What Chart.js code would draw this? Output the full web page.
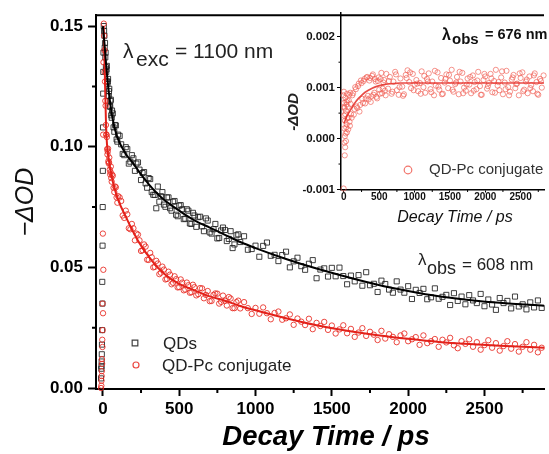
<!DOCTYPE html>
<html>
<head>
<meta charset="utf-8">
<script src="https://cdn.jsdelivr.net/npm/chart.js@4.4.1/dist/chart.umd.min.js"></script>
<style>
  html, body { margin: 0; padding: 0; background: #fff; }
  #wrap { position: relative; width: 549px; height: 454px; }
  #main { position: absolute; left: 0; top: 0; }
  #inset { position: absolute; left: 280px; top: 0; }
</style>
</head>
<body>
<div id="wrap">
  <canvas id="main" width="549" height="454"></canvas>
  <canvas id="inset" width="269" height="228"></canvas>
</div>
<script>
// Main panel: -dOD at 608 nm (ps)
const mainTime = [
  -10, -8, -6, -4, -2, 0, 2, 4, 6, 8,
  10, 12, 14, 16, 18, 20, 24, 28, 32, 36,
  40, 45, 50, 55, 60, 70, 80, 90, 100, 120,
  140, 160, 180, 200, 220, 240, 260, 280, 300, 320,
  340, 360, 380, 400, 420, 440, 460, 480, 500, 520,
  540, 560, 580, 600, 625, 650, 675, 700, 725, 750,
  775, 800, 825, 850, 875, 900, 925, 950, 975, 1000,
  1025, 1050, 1075, 1100, 1125, 1150, 1175, 1200, 1225, 1250,
  1275, 1300, 1325, 1350, 1375, 1400, 1425, 1450, 1475, 1500,
  1525, 1550, 1575, 1600, 1625, 1650, 1675, 1700, 1725, 1750,
  1775, 1800, 1825, 1850, 1875, 1900, 1925, 1950, 1975, 2000,
  2025, 2050, 2075, 2100, 2125, 2150, 2175, 2200, 2225, 2250,
  2275, 2300, 2325, 2350, 2375, 2400, 2425, 2450, 2475, 2500,
  2525, 2550, 2575, 2600, 2625, 2650, 2675, 2700, 2725, 2750,
  2775, 2800, 2825, 2850, 2875,
  // extra (denser) early points
  -12, -9, -7, -5, -3, -1, 1, 3,
  22, 26, 30, 34, 38, 42, 48, 52, 58, 65,
  75, 85, 95, 110, 130, 150, 170, 190, 210, 230,
  250, 270, 290, 310, 330, 350, 370, 390, 410, 430,
  450, 470, 490, 510, 530, 550, 570, 590, 612, 637,
  662, 687, 712, 737, 762, 787, 812, 837, 862, 887
];

const qdValues = [
  0.008, 0.011, 0.018, 0.044, 0.059, 0.090, 0.122, 0.139, 0.150, 0.148,
  0.146, 0.141, 0.143, 0.137, 0.139, 0.133, 0.132, 0.127, 0.127, 0.121,
  0.123, 0.117, 0.119, 0.113, 0.115, 0.108, 0.109, 0.103, 0.105, 0.101,
  0.0965, 0.0990, 0.0938, 0.0952, 0.0930, 0.0905, 0.0891, 0.0848, 0.0870, 0.0812,
  0.0800, 0.0835, 0.0795, 0.0760, 0.0790, 0.0745, 0.0772, 0.0718, 0.0756, 0.0741,
  0.0702, 0.0735, 0.0680, 0.0715, 0.0708, 0.0670, 0.0703, 0.0645, 0.0658, 0.0620,
  0.0653, 0.0655, 0.0618, 0.0580, 0.0633, 0.0605, 0.0629, 0.0573, 0.0576, 0.0590,
  0.0544, 0.0589, 0.0603, 0.0548, 0.0552, 0.0526, 0.0551, 0.0565, 0.0500, 0.0525,
  0.0540, 0.0505, 0.0490, 0.0515, 0.0530, 0.0455, 0.0491, 0.0496, 0.0462, 0.0498,
  0.0463, 0.0499, 0.0464, 0.0430, 0.0466, 0.0442, 0.0468, 0.0424, 0.0480, 0.0426,
  0.0432, 0.0398, 0.0445, 0.0431, 0.0408, 0.0395, 0.0442, 0.0408, 0.0395, 0.0422,
  0.0369, 0.0407, 0.0394, 0.0411, 0.0368, 0.0376, 0.0413, 0.0370, 0.0378, 0.0386,
  0.0344, 0.0393, 0.0361, 0.0379, 0.0347, 0.0385, 0.0363, 0.0352, 0.0390, 0.0339,
  0.0367, 0.0346, 0.0324, 0.0373, 0.0352, 0.0361, 0.0330, 0.0379, 0.0338, 0.0347,
  0.0326, 0.0355, 0.0334, 0.0363, 0.0332,
  0.004, 0.009, 0.014, 0.024, 0.035, 0.075, 0.108, 0.131,
  0.1310, 0.1335, 0.1262, 0.1281, 0.1210, 0.1240, 0.1165, 0.1195, 0.1120, 0.1138,
  0.1062, 0.1088, 0.1021, 0.1045, 0.0970, 0.0998, 0.0930, 0.0965, 0.0900, 0.0935,
  0.0862, 0.0895, 0.0830, 0.0866, 0.0801, 0.0745, 0.0772, 0.0812, 0.0751, 0.0790,
  0.0735, 0.0775, 0.0712, 0.0758, 0.0700, 0.0741, 0.0682, 0.0726, 0.0668, 0.0710,
  0.0650, 0.0694, 0.0640, 0.0680, 0.0622, 0.0665, 0.0609, 0.0650, 0.0595, 0.0637
];

const conjugateValues = [
  0.001, 0.005, 0.012, 0.020, 0.035, 0.064, 0.105, 0.135, 0.151, 0.146,
  0.140, 0.131, 0.127, 0.119, 0.117, 0.109, 0.105, 0.099, 0.098, 0.094,
  0.0935, 0.0905, 0.0895, 0.0870, 0.0885, 0.0830, 0.0835, 0.0790, 0.0795, 0.0775,
  0.0705, 0.0720, 0.0658, 0.0662, 0.0640, 0.0612, 0.0571, 0.0586, 0.0531, 0.0542,
  0.0502, 0.0516, 0.0478, 0.0491, 0.0452, 0.0470, 0.0436, 0.0451, 0.0418, 0.0437,
  0.0408, 0.0426, 0.0397, 0.0418, 0.0389, 0.0413, 0.0386, 0.0360, 0.0386, 0.0391,
  0.0357, 0.0362, 0.0377, 0.0331, 0.0356, 0.0330, 0.0356, 0.0331, 0.0307, 0.0332,
  0.0308, 0.0334, 0.0310, 0.0285, 0.0311, 0.0317, 0.0283, 0.0289, 0.0305, 0.0262,
  0.0288, 0.0275, 0.0261, 0.0287, 0.0244, 0.0270, 0.0257, 0.0274, 0.0241, 0.0259,
  0.0226, 0.0243, 0.0260, 0.0227, 0.0245, 0.0212, 0.0230, 0.0248, 0.0216, 0.0233,
  0.0221, 0.0199, 0.0237, 0.0205, 0.0223, 0.0212, 0.0190, 0.0218, 0.0226, 0.0194,
  0.0202, 0.0211, 0.0179, 0.0218, 0.0186, 0.0194, 0.0203, 0.0171, 0.0200, 0.0189,
  0.0208, 0.0177, 0.0165, 0.0194, 0.0183, 0.0202, 0.0171, 0.0190, 0.0159, 0.0178,
  0.0198, 0.0167, 0.0186, 0.0155, 0.0174, 0.0194, 0.0163, 0.0182, 0.0151, 0.0171,
  0.0190, 0.0159, 0.0179, 0.0148, 0.0167,
  0.000, 0.003, 0.007, 0.010, 0.017, 0.024, 0.031, 0.049,
  0.1050, 0.1040, 0.0968, 0.0992, 0.0931, 0.0955, 0.0885, 0.0918, 0.0855, 0.0880,
  0.0812, 0.0832, 0.0768, 0.0790, 0.0715, 0.0735, 0.0662, 0.0680, 0.0612, 0.0636,
  0.0568, 0.0595, 0.0532, 0.0560, 0.0500, 0.0527, 0.0472, 0.0503, 0.0450, 0.0482,
  0.0430, 0.0463, 0.0417, 0.0450, 0.0405, 0.0437, 0.0395, 0.0428, 0.0384, 0.0414,
  0.0372, 0.0402, 0.0361, 0.0392, 0.0350, 0.0383, 0.0342, 0.0371, 0.0331, 0.0362
];

// fitted curves
const qdFitTime = [0, 10, 20, 30, 40, 60, 80, 100, 150, 200, 250, 300, 350, 400, 450, 500, 600, 700, 800, 900,
  1000, 1200, 1400, 1600, 1800, 2000, 2200, 2400, 2600, 2890];
const qdFitValues = [0.150, 0.143, 0.135, 0.128, 0.122, 0.113, 0.107, 0.103, 0.097, 0.093,
  0.0885, 0.0845, 0.081, 0.078, 0.0757, 0.0735, 0.0695, 0.0665, 0.0635, 0.0605,
  0.058, 0.0535, 0.0495, 0.046, 0.0428, 0.0402, 0.038, 0.0365, 0.0353, 0.0341];

const conjugateFitTime = [5, 10, 15, 20, 25, 30, 40, 60, 80, 100, 150, 200, 250, 300, 350, 400, 450, 500, 600, 700,
  800, 900, 1000, 1200, 1400, 1600, 1800, 2000, 2200, 2400, 2600, 2890];
const conjugateFitValues = [0.150, 0.138, 0.124, 0.111, 0.103, 0.099, 0.094, 0.087, 0.082, 0.078,
  0.071, 0.0645, 0.059, 0.0545, 0.0505, 0.0475, 0.045, 0.0432, 0.0405, 0.038,
  0.0362, 0.034, 0.0322, 0.0289, 0.026, 0.0237, 0.0219, 0.0204, 0.0191, 0.0182,
  0.0175, 0.0167];

// Inset: -dOD at 676 nm
const insetTime = [
  -8, -4, 0, 2, 4, 6, 8, 10, 12, 15,
  18, 21, 24, 27, 30, 35, 40, 45, 50, 55,
  60, 70, 80, 90, 100, 120, 140, 160, 180, 200,
  220, 240, 260, 280, 300, 320, 340, 360, 380, 400,
  420, 440, 460, 480, 500, 520, 540, 560, 580, 600,
  625, 650, 675, 700, 725, 750, 775, 800, 825, 850,
  875, 900, 925, 950, 975, 1000, 1025, 1050, 1075, 1100,
  1125, 1150, 1175, 1200, 1225, 1250, 1275, 1300, 1325, 1350,
  1375, 1400, 1425, 1450, 1475, 1500, 1525, 1550, 1575, 1600,
  1625, 1650, 1675, 1700, 1725, 1750, 1775, 1800, 1825, 1850,
  1875, 1900, 1925, 1950, 1975, 2000, 2025, 2050, 2075, 2100,
  2125, 2150, 2175, 2200, 2225, 2250, 2275, 2300, 2325, 2350,
  2375, 2400, 2425, 2450, 2475, 2500, 2525, 2550, 2575, 2600,
  2625, 2650, 2675, 2700, 2725, 2750, 2775, 2800, 2825,
  // extra points
  5, 14, 20, 33, 38, 43, 48, 65, 75, 85, 95,
  110, 130, 150, 170, 190, 210, 230, 250, 270, 290,
  310, 330, 350, 370, 390, 410, 430, 450, 470, 490,
  510, 530, 550, 570, 590,
  637, 687, 737, 787, 837, 887, 937, 987, 1037, 1087,
  1137, 1187, 1237, 1287, 1337, 1387, 1437, 1487, 1537, 1587,
  1637, 1687, 1737, 1787, 1837, 1887, 1937, 1987, 2037, 2087,
  2137, 2187, 2237, 2287, 2337, 2387, 2437, 2487, 2537, 2587,
  2637, 2687, 2737, 2787
];

const insetValues = [
  0.00085, -0.00098, 0.00092, 0.00070, 0.00045, 0.00020, -0.00008, 0.00060, -0.00033, 0.00035,
  -0.00017, 0.00080, 0.00010, 0.00055, -0.00005, 0.00072, 0.00028, 0.00088, 0.00040, 0.00062,
  0.00018, 0.00075, 0.00033, 0.00090, 0.00048, 0.00085, 0.00047, 0.00101, 0.00063, 0.00103,
  0.00053, 0.00114, 0.00078, 0.00113, 0.00069, 0.00120, 0.00084, 0.00114, 0.00072, 0.00123,
  0.00086, 0.00117, 0.00082, 0.00113, 0.00096, 0.00117, 0.00089, 0.00110, 0.00094, 0.00127,
  0.00098, 0.00121, 0.00088, 0.00112, 0.00131, 0.00095, 0.00086, 0.00118, 0.00102, 0.00087,
  0.00125, 0.00134, 0.00111, 0.00099, 0.00127, 0.00106, 0.00115, 0.00093, 0.00109, 0.00132,
  0.00101, 0.00090, 0.00117, 0.00128, 0.00097, 0.00112, 0.00085, 0.00104, 0.00130, 0.00096,
  0.00119, 0.00088, 0.00110, 0.00126, 0.00099, 0.00114, 0.00135, 0.00092, 0.00107, 0.00121,
  0.00087, 0.00112, 0.00129, 0.00100, 0.00094, 0.00118, 0.00106, 0.00089, 0.00124, 0.00111,
  0.00097, 0.00131, 0.00103, 0.00086, 0.00115, 0.00122, 0.00098, 0.00109, 0.00127, 0.00091,
  0.00113, 0.00135, 0.00104, 0.00095, 0.00120, 0.00087, 0.00110, 0.00133, 0.00101, 0.00092,
  0.00116, 0.00125, 0.00099, 0.00108, 0.00085, 0.00119, 0.00130, 0.00096, 0.00112, 0.00089,
  0.00122, 0.00105, 0.00093, 0.00128, 0.00111, 0.00086, 0.00117, 0.00100, 0.00124,
  0.00062, 0.00005, 0.00048, 0.00022, 0.00067, 0.00012, 0.00075, 0.00041, 0.00086, 0.00025, 0.00068,
  0.00041, 0.00089, 0.00058, 0.00097, 0.00060, 0.00108, 0.00066, 0.00109, 0.00070, 0.00117,
  0.00079, 0.00121, 0.00077, 0.00119, 0.00083, 0.00126, 0.00090, 0.00112, 0.00079, 0.00120,
  0.00088, 0.00129, 0.00098, 0.00115, 0.00085,
  0.00113, 0.00092, 0.00126, 0.00101, 0.00084, 0.00119, 0.00130, 0.00095, 0.00108, 0.00088,
  0.00123, 0.00112, 0.00091, 0.00133, 0.00102, 0.00087, 0.00117, 0.00125, 0.00096, 0.00110,
  0.00131, 0.00089, 0.00106, 0.00121, 0.00094, 0.00114, 0.00086, 0.00127, 0.00103, 0.00118,
  0.00090, 0.00111, 0.00132, 0.00097, 0.00085, 0.00120, 0.00107, 0.00128, 0.00093, 0.00116,
  0.00099, 0.00124, 0.00088, 0.00113
];

const insetFitTime = [0, 25, 50, 100, 150, 200, 250, 300, 400, 500, 600, 700, 800, 1000, 1500, 2000, 2500, 2831];
const insetFitValues = [0.00030, 0.00038, 0.00046, 0.00058, 0.00069, 0.00078, 0.00085, 0.00091, 0.00099, 0.00104,
  0.00107, 0.00108, 0.00109, 0.00109, 0.00109, 0.00109, 0.00109, 0.00109];

// tick positions
const timeTicks = [0, 500, 1000, 1500, 2000, 2500];
const mainYTicks = [0, 0.05, 0.10, 0.15];
const insetYTicks = [-0.001, 0, 0.001, 0.002];
const timeMinor = [250, 750, 1250, 1750, 2250, 2750];
const mainYMinor = [0.025, 0.075, 0.125];
const insetYMinor = [-0.0005, 0.0005, 0.0015];

const FONT = "'Liberation Sans', Arial, sans-serif";
const RED = '#e3211a';

Chart.defaults.font.family = FONT;

function pts(xs, ys) {
  return xs.map((x, i) => ({ x: x, y: ys[i] }));
}

function fixedTicks(values) {
  return scale => { scale.ticks = values.map(v => ({ value: v })); };
}

// small ticks between the labelled ones
function minorTicks(xVals, yVals, len, width) {
  return {
    id: 'minorTicks',
    afterDraw(chart) {
      const { ctx, chartArea, scales } = chart;
      ctx.save();
      ctx.strokeStyle = '#000';
      ctx.lineWidth = width;
      ctx.beginPath();
      xVals.forEach(v => {
        const px = scales.x.getPixelForValue(v);
        ctx.moveTo(px, chartArea.bottom);
        ctx.lineTo(px, chartArea.bottom + len);
      });
      yVals.forEach(v => {
        const py = scales.y.getPixelForValue(v);
        ctx.moveTo(chartArea.left, py);
        ctx.lineTo(chartArea.left - len, py);
      });
      ctx.stroke();
      ctx.restore();
    }
  };
}

// free text (labels, legend text)
function textLayer(items) {
  return {
    id: 'textLayer',
    afterDraw(chart) {
      const ctx = chart.ctx;
      items.forEach(it => {
        ctx.save();
        ctx.font = (it.style || 'normal') + ' ' + (it.weight || 'normal') + ' ' + it.size + 'px ' + FONT;
        ctx.fillStyle = it.color || '#111';
        ctx.textAlign = it.align || 'left';
        ctx.textBaseline = it.baseline || 'alphabetic';
        ctx.translate(it.x, it.y);
        if (it.rotate) ctx.rotate(it.rotate);
        ctx.fillText(it.text, 0, 0);
        ctx.restore();
      });
    }
  };
}

// legend markers drawn with the library's point helper
function legendMarks(marks) {
  return {
    id: 'legendMarks',
    afterDraw(chart) {
      const ctx = chart.ctx;
      marks.forEach(m => {
        ctx.save();
        ctx.strokeStyle = m.color;
        ctx.fillStyle = 'rgba(0,0,0,0)';
        ctx.lineWidth = m.borderWidth;
        Chart.helpers.drawPoint(ctx, { pointStyle: m.style, radius: m.radius, rotation: 0, borderWidth: m.borderWidth }, m.x, m.y);
        ctx.restore();
      });
    }
  };
}

const topBorder = {
  id: 'topBorder',
  afterDraw(chart) {
    const { ctx, chartArea } = chart;
    ctx.save();
    ctx.strokeStyle = '#000';
    ctx.lineWidth = 2;
    ctx.beginPath();
    ctx.moveTo(chartArea.left, chartArea.top);
    ctx.lineTo(chartArea.right, chartArea.top);
    ctx.stroke();
    ctx.restore();
  }
};

// Main chart
new Chart(document.getElementById('main'), {
  type: 'scatter',
  data: {
    datasets: [
      {
        label: 'QDs fit',
        data: pts(qdFitTime, qdFitValues),
        showLine: true,
        borderColor: '#000',
        borderWidth: 2,
        pointRadius: 0,
        cubicInterpolationMode: 'monotone',
        order: 0
      },
      {
        label: 'QD-Pc conjugate fit',
        data: pts(conjugateFitTime, conjugateFitValues),
        showLine: true,
        borderColor: RED,
        borderWidth: 2,
        pointRadius: 0,
        cubicInterpolationMode: 'monotone',
        order: 0
      },
      {
        label: 'QDs',
        data: pts(mainTime, qdValues),
        pointStyle: 'rect',
        pointRadius: 3.6,
        borderColor: 'rgba(30,30,30,0.85)',
        backgroundColor: 'rgba(0,0,0,0)',
        borderWidth: 1,
        clip: false,
        order: 2
      },
      {
        label: 'QD-Pc conjugate',
        data: pts(mainTime, conjugateValues),
        pointStyle: 'circle',
        pointRadius: 2.7,
        borderColor: 'rgba(232,40,32,0.85)',
        backgroundColor: 'rgba(0,0,0,0)',
        borderWidth: 1,
        clip: false,
        order: 1
      }
    ]
  },
  options: {
    responsive: false,
    animation: false,
    devicePixelRatio: 1,
    layout: { padding: { left: 0, right: 0, top: 13, bottom: 0 } },
    plugins: { legend: { display: false }, tooltip: { enabled: false } },
    scales: {
      x: {
        type: 'linear',
        position: 'bottom',
        min: -45,
        max: 2890,
        afterBuildTicks: fixedTicks(timeTicks),
        afterFit: s => { s.height = 65; },
        border: { color: '#000', width: 2 },
        grid: { drawOnChartArea: false, drawTicks: true, tickLength: 7, tickWidth: 2, tickColor: '#000' },
        ticks: {
          padding: 3, color: '#000', maxRotation: 0, autoSkip: false,
          font: { size: 17, weight: 'bold' },
          callback: v => String(v)
        },
        title: { display: false }
      },
      y: {
        min: -0.0004,
        max: 0.1545,
        afterBuildTicks: fixedTicks(mainYTicks),
        afterFit: s => { s.width = 96; },
        border: { color: '#000', width: 2 },
        grid: { drawOnChartArea: false, drawTicks: true, tickLength: 8, tickWidth: 2, tickColor: '#000' },
        ticks: {
          padding: 5, color: '#000', autoSkip: false,
          font: { size: 17, weight: 'bold' },
          callback: v => v.toFixed(2)
        },
        title: {
          display: true, text: '\u2212\u0394OD', color: '#111',
          font: { size: 25, style: 'italic' },
          padding: { top: 11, bottom: 0 }
        }
      }
    }
  },
  plugins: [
    topBorder,
    minorTicks(timeMinor, mainYMinor, 4, 2),
    legendMarks([
      { style: 'rect', radius: 4, color: 'rgba(30,30,30,0.85)', borderWidth: 1.2, x: 135, y: 343 },
      { style: 'circle', radius: 3, color: 'rgba(232,40,32,0.85)', borderWidth: 1.2, x: 136, y: 365 }
    ]),
    textLayer([
      { text: 'Decay Time / ps', x: 326, y: 445, size: 27.5, weight: 'bold', style: 'italic', align: 'center', color: '#000' },
      { text: 'QDs', x: 163, y: 344, size: 17, baseline: 'middle', color: '#222' },
      { text: 'QD-Pc conjugate', x: 162, y: 366, size: 17, baseline: 'middle', color: '#222' },
      { text: '\u03bb', x: 123, y: 58, size: 21, color: '#222' },
      { text: 'exc', x: 136, y: 66, size: 21, color: '#222' },
      { text: '= 1100 nm', x: 175, y: 58, size: 21, color: '#222' },
      { text: '\u03bb', x: 418, y: 265, size: 17, color: '#222' },
      { text: 'obs', x: 427, y: 274, size: 18, color: '#222' },
      { text: '= 608 nm', x: 462, y: 270, size: 17, color: '#222' }
    ])
  ]
});

// Inset chart
new Chart(document.getElementById('inset'), {
  type: 'scatter',
  data: {
    datasets: [
      {
        label: 'QD-Pc conjugate fit',
        data: pts(insetFitTime, insetFitValues),
        showLine: true,
        borderColor: 'rgba(228,45,38,0.85)',
        borderWidth: 1.6,
        pointRadius: 0,
        cubicInterpolationMode: 'monotone',
        order: 0
      },
      {
        label: 'QD-Pc conjugate',
        data: pts(insetTime, insetValues),
        pointStyle: 'circle',
        pointRadius: 2.6,
        borderColor: 'rgba(240,90,80,0.65)',
        backgroundColor: 'rgba(0,0,0,0)',
        borderWidth: 1,
        clip: false,
        order: 1
      }
    ]
  },
  options: {
    responsive: false,
    animation: false,
    devicePixelRatio: 1,
    layout: { padding: { left: 0, right: 0, top: 13, bottom: 0 } },
    plugins: { legend: { display: false }, tooltip: { enabled: false } },
    scales: {
      x: {
        type: 'linear',
        position: 'bottom',
        min: -41,
        max: 2831,
        afterBuildTicks: fixedTicks(timeTicks),
        afterFit: s => { s.height = 38.5; },
        border: { color: '#000', width: 1.5 },
        grid: { drawOnChartArea: false, drawTicks: true, tickLength: 3, tickWidth: 1, tickColor: '#000' },
        ticks: {
          padding: 0, color: '#111', maxRotation: 0, autoSkip: false,
          font: { size: 10, weight: 'bold', lineHeight: 1 },
          callback: v => String(v)
        },
        title: { display: false }
      },
      y: {
        min: -0.001,
        max: 0.002466,
        afterBuildTicks: fixedTicks(insetYTicks),
        afterFit: s => { s.width = 61; },
        border: { color: '#000', width: 1.5 },
        grid: { drawOnChartArea: false, drawTicks: true, tickLength: 4, tickWidth: 1, tickColor: '#000' },
        ticks: {
          padding: 2, color: '#111', autoSkip: false,
          font: { size: 11.5, weight: 'bold' },
          callback: v => v.toFixed(3)
        },
        title: { display: false }
      }
    }
  },
  plugins: [
    minorTicks(timeMinor, insetYMinor, 2.5, 1),
    legendMarks([
      { style: 'circle', radius: 3.8, color: 'rgba(240,90,80,0.85)', borderWidth: 1.2, x: 128, y: 170 }
    ]),
    textLayer([
      { text: 'Decay Time / ps', x: 175, y: 222, size: 16, style: 'italic', align: 'center', color: '#111' },
      { text: '-\u0394OD', x: 14, y: 112, size: 15, weight: 'bold', style: 'italic', align: 'center', baseline: 'middle', rotate: -Math.PI / 2, color: '#222' },
      { text: 'QD-Pc conjugate', x: 149, y: 170, size: 15, baseline: 'middle', color: '#333' },
      { text: '\u03bb', x: 162, y: 40, size: 16, weight: 'bold', color: '#111' },
      { text: 'obs', x: 172, y: 44, size: 15, weight: 'bold', color: '#111' },
      { text: '= 676 nm', x: 205, y: 39, size: 14.5, weight: 'bold', color: '#111' }
    ])
  ]
});
</script>
</body>
</html>
